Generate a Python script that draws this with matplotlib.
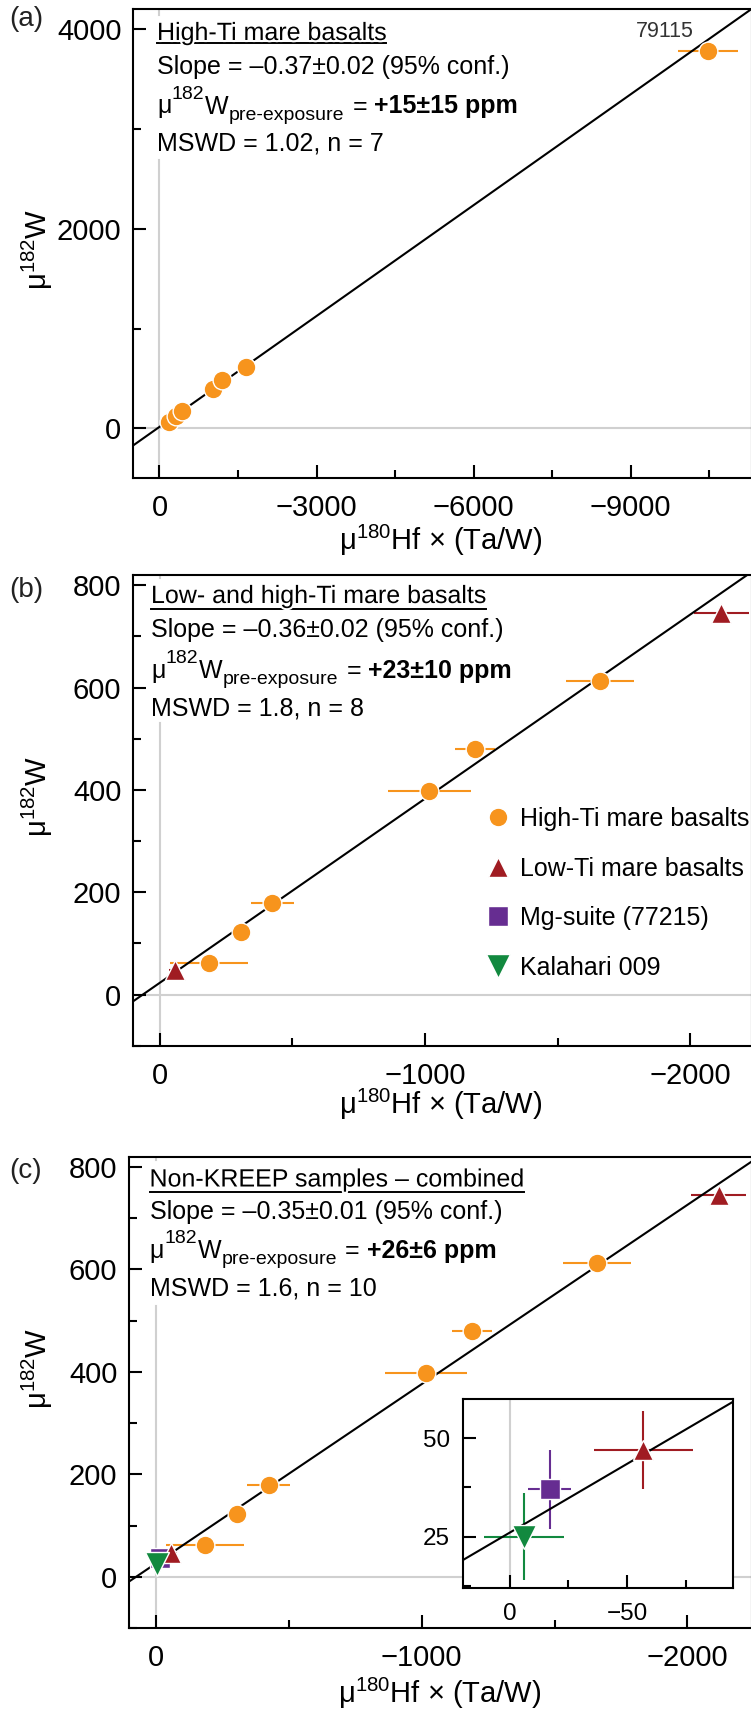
import numpy as np
import matplotlib.pyplot as plt
from matplotlib.lines import Line2D
from matplotlib.ticker import MultipleLocator
import matplotlib.patheffects as pe

plt.rcParams['font.family'] = ['Liberation Sans', 'DejaVu Sans']
plt.rcParams['mathtext.fontset'] = 'custom'
plt.rcParams['mathtext.rm'] = 'Liberation Sans'
plt.rcParams['mathtext.it'] = 'Liberation Sans:italic'
plt.rcParams['mathtext.bf'] = 'Liberation Sans:bold'

# ---- data ----
hiti_x = [-185, -307, -424, -1016, -1189, -1659]
hiti_y = [62, 123, 179, 398, 480, 612]
hiti_xerr = [146, 25, 82, 155, 75, 127]
s79115_x, s79115_y, s79115_xerr = -10479, 3783, 564
loti_x = [-57, -2117]
loti_y = [47, 745]
loti_xerr = [21, 105]
loti_yerr = [10, 10]
mg_x, mg_y, mg_xerr, mg_yerr = [-17], [37], [9], [10]
kal_x, kal_y, kal_xerr, kal_yerr = [-6], [25], [17], [11]

fit_slope = [-0.37, -0.36, -0.35]
fit_icpt = [15, 23, 26]
titles = ['High-Ti mare basalts', 'Low- and high-Ti mare basalts',
          'Non-KREEP samples \u2013 combined']
slope_txt = ['Slope = \u20130.37\u00b10.02 (95% conf.)',
             'Slope = \u20130.36\u00b10.02 (95% conf.)',
             'Slope = \u20130.35\u00b10.01 (95% conf.)']
preexp_txt = ['+15\u00b115 ppm', '+23\u00b110 ppm', '+26\u00b16 ppm']
mswd_txt = ['MSWD = 1.02, n = 7', 'MSWD = 1.8, n = 8', 'MSWD = 1.6, n = 10']
legend_labels = ['High-Ti mare basalts', 'Low-Ti mare basalts',
                 'Mg-suite (77215)', 'Kalahari 009']

ORANGE = '#F7941D'
RED = '#A01C22'
PURPLE = '#662D91'
GREEN = '#12893F'
GREY = '#d0d0d0'

MS_O, MS_UP, MS_SQ, MS_DN = 13.5, 15, 14, 17

W, H = 751, 1713
fig = plt.figure(figsize=(W / 100, H / 100), dpi=100)
renderer = fig.canvas.get_renderer()


def fy(py):
    return 1 - py / H


def add_ax(left, top, right, bottom):
    return fig.add_axes([left / W, fy(bottom), (right - left) / W, (bottom - top) / H])


def style(ax, xmaj, xmin, ymaj, ymin, size=21, xpad=11.5, ypad=8.5):
    for sp in ax.spines.values():
        sp.set_linewidth(1.5)
    ax.xaxis.set_major_locator(MultipleLocator(xmaj))
    ax.xaxis.set_minor_locator(MultipleLocator(xmin))
    ax.yaxis.set_major_locator(MultipleLocator(ymaj))
    ax.yaxis.set_minor_locator(MultipleLocator(ymin))
    ax.tick_params(which='both', direction='in', width=1.5, top=False, right=False)
    ax.tick_params(which='major', length=9.4)
    ax.tick_params(which='minor', length=5.5)
    ax.tick_params(axis='x', which='both', labelsize=size, pad=xpad)
    ax.tick_params(axis='y', which='both', labelsize=size, pad=ypad)


def points(ax, x, y, c, m, ms, xerr=None, yerr=None):
    ax.errorbar(x, y, xerr=xerr, yerr=yerr, fmt='none', ecolor=c, elinewidth=1.5,
                capsize=0, zorder=2)
    ax.plot(x, y, ls='', marker=m, ms=ms, mfc=c, mec='white', mew=1, zorder=4)


def fit_line(ax, k):
    xs = np.array(ax.get_xlim())
    ax.plot(xs, fit_icpt[k] + fit_slope[k] * xs, color='k', lw=1.5, zorder=3)


def text_row(x0, base, pieces):
    x = x0
    for s, size, weight, dy, gap in pieces:
        t = fig.text(x / W, fy(base - dy), s, fontsize=size, fontweight=weight,
                     ha='left', va='baseline')
        x = t.get_window_extent(renderer).x1 + gap


def annotate_block(k, x0, bases, ul):
    t = fig.text(x0 / W, fy(bases[0]), titles[k], fontsize=18, ha='left', va='baseline',
                 zorder=5, path_effects=[pe.withStroke(linewidth=3, foreground='white')])
    bb = t.get_window_extent(renderer)
    fig.add_artist(Line2D([bb.x0 / W, bb.x1 / W], [fy(ul), fy(ul)], color='k', lw=1.4,
                          transform=fig.transFigure, zorder=4))
    fig.text(x0 / W, fy(bases[1]), slope_txt[k], fontsize=18, ha='left', va='baseline')
    text_row(x0, bases[2], [('\u03bc', 18, 'normal', 0, 0.5),
                            ('182', 14, 'normal', 14.6, 0.5),
                            ('W', 18, 'normal', 0, 0.5),
                            ('pre-exposure', 14, 'normal', -6, 8),
                            ('=', 18, 'normal', 0, 7),
                            (preexp_txt[k], 18, 'bold', 0, 0)])
    fig.text(x0 / W, fy(bases[3]), mswd_txt[k], fontsize=18, ha='left', va='baseline')


def zero_lines(ax, cut, topcut):
    ax.axhline(0, color=GREY, lw=1.5, zorder=1)
    ax.axvline(0, ymin=0, ymax=cut, color=GREY, lw=1.5, zorder=1)
    ax.axvline(0, ymin=topcut, ymax=1, color=GREY, lw=1.5, zorder=1)


def labels(x_center, xl_base, y_center, letter, letter_y):
    fig.text(x_center / W, fy(xl_base), '\u03bc$^{180}$Hf \u00d7 (Ta/W)', fontsize=21,
             ha='center', va='baseline')
    fig.text(37 / W, fy(y_center), '\u03bc$^{182}$W', fontsize=21, rotation=90,
             ha='center', va='center')
    fig.text(26 / W, fy(letter_y), letter, fontsize=20, color='#222222',
             ha='center', va='center')


# ---- panel (a) ----
axa = add_ax(133.3, 9, 752, 478.3)
axa.set_xlim(500, -11320)
axa.set_ylim(-500, 4200)
style(axa, 3000, 1500, 2000, 1000)
zero_lines(axa, 0.678, 0.987)
fit_line(axa, 0)
points(axa, hiti_x + [s79115_x], hiti_y + [s79115_y], ORANGE, 'o', MS_O,
       xerr=hiti_xerr + [s79115_xerr])
axa.annotate('79115', xy=(s79115_x, s79115_y), xytext=(-43, 19), textcoords='offset pixels',
             ha='center', va='center', fontsize=15.5, color='#333333')
annotate_block(0, 157, [40, 74, 113.5, 151], 43)
labels(440.6, 550.5, 249, '(a)', 19)

# ---- panel (b) ----
axb = add_ax(133.3, 575, 752, 1045.7)
axb.set_xlim(100, -2232)
axb.set_ylim(-100, 820)
style(axb, 1000, 500, 200, 100)
zero_lines(axb, 0.686, 0.994)
fit_line(axb, 1)
points(axb, hiti_x, hiti_y, ORANGE, 'o', MS_O, xerr=hiti_xerr)
points(axb, loti_x, loti_y, RED, '^', MS_UP, xerr=loti_xerr, yerr=loti_yerr)
annotate_block(1, 151, [603, 637, 678, 715], 609)
labels(440.6, 1113.5, 796, '(b)', 590)

handles = [Line2D([], [], ls='', marker='o', ms=MS_O, mfc=ORANGE, mec='white'),
           Line2D([], [], ls='', marker='^', ms=MS_UP, mfc=RED, mec='white'),
           Line2D([], [], ls='', marker='s', ms=MS_SQ, mfc=PURPLE, mec='white'),
           Line2D([], [], ls='', marker='v', ms=MS_DN, mfc=GREEN, mec='white')]
axb.legend(handles, legend_labels, loc='upper left', bbox_to_anchor=(485.5 / W, fy(807)),
           bbox_transform=fig.transFigure, frameon=False, borderpad=0, borderaxespad=0,
           handlelength=1.0, handletextpad=0.4, labelspacing=1.02, fontsize=18)

# ---- panel (c) ----
axc = add_ax(129.3, 1156.7, 752, 1628)
axc.set_xlim(100, -2243)
axc.set_ylim(-100, 820)
style(axc, 1000, 500, 200, 100)
zero_lines(axc, 0.684, 0.993)
fit_line(axc, 2)
points(axc, hiti_x, hiti_y, ORANGE, 'o', MS_O, xerr=hiti_xerr)
points(axc, mg_x, mg_y, PURPLE, 's', MS_SQ, xerr=mg_xerr, yerr=mg_yerr)
points(axc, loti_x, loti_y, RED, '^', MS_UP, xerr=loti_xerr, yerr=loti_yerr)
points(axc, kal_x, kal_y, GREEN, 'v', MS_DN, xerr=kal_xerr, yerr=kal_yerr)
annotate_block(2, 149.5, [1186.5, 1218.5, 1258, 1295.5], 1191.5)
labels(439.6, 1703, 1368, '(c)', 1171)

# inset
axi = add_ax(462.7, 1399, 732.7, 1587.7)
axi.set_facecolor('white')
axi.set_xlim(20, -95)
axi.set_ylim(12, 60)
style(axi, 50, 25, 25, 12.5, size=17.5, xpad=11, ypad=9)
axi.axvline(0, color=GREY, lw=1.5, zorder=1)
fit_line(axi, 2)
points(axi, mg_x, mg_y, PURPLE, 's', MS_SQ, xerr=mg_xerr, yerr=mg_yerr)
points(axi, loti_x, loti_y, RED, '^', MS_UP, xerr=loti_xerr, yerr=loti_yerr)
points(axi, kal_x, kal_y, GREEN, 'v', MS_DN, xerr=kal_xerr, yerr=kal_yerr)

fig.savefig('out.png', dpi=100)
